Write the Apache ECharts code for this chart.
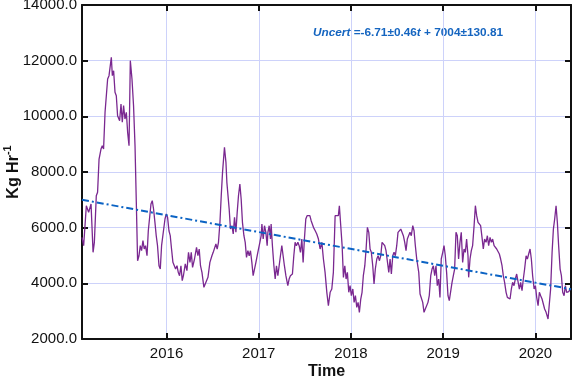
<!DOCTYPE html>
<html>
<head>
<meta charset="utf-8">
<script src="https://cdn.jsdelivr.net/npm/echarts@6/dist/echarts.min.js"></script>
<style>
  html, body { margin: 0; padding: 0; background: #fff; }
  #chart { width: 575px; height: 380px; }
</style>
</head>
<body>
<div id="chart"></div>
<script>
// decimal years of each reading and the flux at that time (Kg Hr-1)
const times = [
  2015.083, 2015.101, 2015.130, 2015.155, 2015.181, 2015.203, 2015.217, 2015.238, 2015.252, 2015.268,
  2015.289, 2015.303, 2015.317, 2015.333, 2015.347, 2015.361, 2015.376, 2015.401, 2015.412, 2015.426,
  2015.441, 2015.455, 2015.469, 2015.491, 2015.506, 2015.520, 2015.534, 2015.549, 2015.564, 2015.578,
  2015.593, 2015.607, 2015.625, 2015.642, 2015.658, 2015.672, 2015.686, 2015.701, 2015.715, 2015.729,
  2015.744, 2015.758, 2015.772, 2015.788, 2015.802, 2015.816, 2015.831, 2015.845, 2015.859, 2015.874,
  2015.888, 2015.902, 2015.918, 2015.932, 2015.946, 2015.967, 2015.983, 2015.997, 2016.011, 2016.026,
  2016.040, 2016.054, 2016.069, 2016.083, 2016.098, 2016.113, 2016.127, 2016.141, 2016.156, 2016.170,
  2016.184, 2016.203, 2016.221, 2016.238, 2016.254, 2016.268, 2016.282, 2016.303, 2016.325, 2016.340,
  2016.354, 2016.368, 2016.384, 2016.405, 2016.427, 2016.449, 2016.470, 2016.492, 2016.506, 2016.520,
  2016.535, 2016.549, 2016.563, 2016.579, 2016.593, 2016.607, 2016.628, 2016.644, 2016.654, 2016.665,
  2016.679, 2016.693, 2016.709, 2016.723, 2016.737, 2016.752, 2016.766, 2016.780, 2016.795, 2016.809,
  2016.823, 2016.839, 2016.853, 2016.867, 2016.882, 2016.896, 2016.910, 2016.925, 2016.939, 2016.953,
  2016.969, 2016.983, 2016.997, 2017.012, 2017.026, 2017.034, 2017.048, 2017.062, 2017.077, 2017.091,
  2017.099, 2017.113, 2017.127, 2017.134, 2017.148, 2017.164, 2017.178, 2017.192, 2017.207, 2017.221,
  2017.235, 2017.250, 2017.264, 2017.278, 2017.294, 2017.315, 2017.329, 2017.343, 2017.365, 2017.380,
  2017.394, 2017.408, 2017.424, 2017.438, 2017.452, 2017.467, 2017.481, 2017.495, 2017.510, 2017.524,
  2017.538, 2017.554, 2017.568, 2017.582, 2017.593, 2017.612, 2017.629, 2017.647, 2017.665, 2017.684,
  2017.701, 2017.719, 2017.738, 2017.755, 2017.774, 2017.792, 2017.809, 2017.828, 2017.846, 2017.863,
  2017.874, 2017.889, 2017.904, 2017.918, 2017.933, 2017.947, 2017.961, 2017.976, 2017.990, 2018.004,
  2018.020, 2018.034, 2018.048, 2018.063, 2018.077, 2018.091, 2018.106, 2018.120, 2018.134, 2018.150,
  2018.164, 2018.178, 2018.193, 2018.207, 2018.221, 2018.236, 2018.250, 2018.264, 2018.280, 2018.294,
  2018.308, 2018.323, 2018.337, 2018.351, 2018.366, 2018.380, 2018.394, 2018.410, 2018.424, 2018.438,
  2018.453, 2018.467, 2018.481, 2018.496, 2018.510, 2018.524, 2018.540, 2018.554, 2018.568, 2018.583,
  2018.597, 2018.611, 2018.626, 2018.640, 2018.654, 2018.670, 2018.684, 2018.698, 2018.713, 2018.735,
  2018.749, 2018.763, 2018.778, 2018.792, 2018.806, 2018.821, 2018.835, 2018.849, 2018.865, 2018.879,
  2018.893, 2018.908, 2018.922, 2018.936, 2018.951, 2018.965, 2018.979, 2018.995, 2019.009, 2019.023,
  2019.037, 2019.052, 2019.066, 2019.080, 2019.096, 2019.110, 2019.124, 2019.139, 2019.153, 2019.167,
  2019.182, 2019.196, 2019.211, 2019.226, 2019.240, 2019.254, 2019.269, 2019.276, 2019.291, 2019.305,
  2019.319, 2019.335, 2019.349, 2019.363, 2019.378, 2019.392, 2019.406, 2019.421, 2019.435, 2019.449,
  2019.465, 2019.479, 2019.493, 2019.508, 2019.522, 2019.536, 2019.552, 2019.566, 2019.580, 2019.595,
  2019.609, 2019.623, 2019.638, 2019.652, 2019.666, 2019.682, 2019.696, 2019.710, 2019.725, 2019.739,
  2019.753, 2019.768, 2019.782, 2019.797, 2019.812, 2019.826, 2019.840, 2019.855, 2019.869, 2019.883,
  2019.899, 2019.913, 2019.927, 2019.942, 2019.956, 2019.970, 2019.986, 2020.000, 2020.014, 2020.029,
  2020.043, 2020.057, 2020.072, 2020.086, 2020.100, 2020.116, 2020.137, 2020.151, 2020.165, 2020.181,
  2020.195, 2020.209, 2020.224, 2020.238, 2020.252, 2020.268, 2020.282, 2020.296, 2020.311, 2020.325,
  2020.339, 2020.361, 2020.380
]
const flux = [
  5653, 5352, 6789, 6551, 6850, 5114, 5473, 7148, 7270, 8467,
  8826, 8946, 8826, 10145, 10205, 11341, 11460, 12121, 11460, 11640,
  10863, 10740, 10022, 9843, 10443, 9785, 10383, 9904, 10145, 9426,
  8946, 12000, 11341, 10383, 8946, 6910, 4813, 4992, 5352, 5172,
  5532, 5233, 5352, 4992, 5890, 5950, 6850, 6969, 6670, 6192,
  5711, 5352, 4633, 4514, 5352, 5412, 6311, 6491, 6371, 5890,
  5711, 5233, 4754, 4813, 4514, 4633, 4394, 4274, 4633, 4094,
  4300, 4700, 4454, 5114, 4754, 5114, 4574, 4874, 5293, 4992,
  5233, 4633, 4394, 3857, 4036, 4215, 4754, 4992, 5114, 5053,
  5412, 5233, 5473, 6192, 7148, 7987, 8887, 8347, 7629, 7568,
  6670, 5950, 6070, 5772, 6371, 5833, 6551, 7148, 7568, 7030,
  6192, 5711, 5473, 4933, 5172, 4992, 5172, 4754, 4274, 4334,
  4754, 4992, 5233, 5473, 5711, 6131, 5592, 6070, 5833, 5352,
  5833, 6070, 5592, 6131, 5352, 4633, 4155, 4633, 4274, 4633,
  4992, 5352, 4992, 4633, 4274, 3917, 4155, 4274, 4334, 4992,
  5473, 5352, 5473, 5352, 5114, 5592, 4754, 5592, 6311, 6431,
  6371, 6431, 6251, 6192, 6012, 5890, 5772, 5592, 5233, 5473,
  4874, 4394, 3677, 3196, 3677, 3796, 4394, 6431, 6491, 6431,
  6789, 6070, 5352, 4215, 4633, 4155, 4394, 3677, 3917, 3556,
  3796, 3316, 3556, 3136, 3316, 2958, 3436, 3677, 4274, 4633,
  5233, 6012, 5833, 5233, 5114, 4633, 3976, 4514, 4874, 4992,
  4813, 4992, 5473, 5532, 5352, 5172, 5233, 4394, 4874, 4334,
  4992, 5114, 4992, 5352, 5833, 5772, 5950, 6012, 5711, 5473,
  5172, 5592, 5532, 5833, 5711, 6070, 5890, 5352, 4874, 4394,
  3617, 3556, 3316, 2958, 3077, 3077, 3316, 3556, 4274, 4514,
  4633, 4274, 4633, 3917, 4155, 3496, 4874, 5114, 5352, 4992,
  4394, 3556, 3376, 3316, 4036, 4274, 4514, 5833, 5711, 4874,
  5473, 5833, 4754, 5233, 5114, 5592, 4992, 4215, 4874, 5172,
  5352, 6070, 6789, 6431, 6192, 6192, 6070, 5652, 5233, 5592,
  5473, 5711, 5352, 5652, 5473, 5592, 5352, 5412, 5233, 5293,
  5053, 4874, 4633, 4274, 4036, 3677, 3496, 3496, 3436, 3796,
  4036, 3917, 4155, 4334, 4274, 3796, 4036, 3736, 4155, 4514,
  4992, 4874, 5053, 5233, 4874, 4274, 3796, 3917, 3496, 3196,
  3677, 3556, 3436, 3376, 3077, 2958, 2718, 2718, 3796, 5114,
  5950, 6311, 6789, 6192, 5352, 4514, 4274, 3677, 3556, 3917,
  3677, 3700, 3800
]
// fitted trend: Uncert = -6.71±0.46 t + 7004±130.81
const trendTimes = [2015.083, 2020.386]
const trendValues = [7004, 3790]
const yearTicks = [2016, 2017, 2018, 2019, 2020]

const xMin = 2015.083
const xMax = 2020.386
const font = 'Liberation Sans, Arial, sans-serif'
const gridColor = '#cdd2fa'
const tickStyle = { color: '#111', width: 2 }

const chart = echarts.init(document.getElementById('chart'))

const baseX = {
  type: 'value',
  min: xMin,
  max: xMax,
  axisLine: { show: true, onZero: false, lineStyle: { color: '#111', width: 2 } },
  axisTick: { show: true, inside: true, length: 6, customValues: yearTicks, lineStyle: tickStyle },
  splitLine: { show: false }
}

const option = {
  animation: false,
  grid: { left: 82, right: 4, top: 5, bottom: 41, containLabel: false, outerBoundsMode: 'none' },
  xAxis: [
    Object.assign({}, baseX, {
      position: 'bottom',
      name: 'Time',
      nameLocation: 'middle',
      nameGap: 25,
      nameMoveOverlap: false,
      nameTextStyle: { fontFamily: font, fontSize: 16, fontWeight: 'bold', color: '#111' },
      axisLabel: {
        customValues: yearTicks, margin: 7,
        fontFamily: font, fontSize: 15, color: '#111',
        formatter: v => String(Math.round(v))
      },
      splitLine: { show: true, lineStyle: { color: gridColor, width: 1 } }
    }),
    Object.assign({}, baseX, {
      position: 'top',
      axisLabel: { show: false }
    })
  ],
  yAxis: [
    {
      type: 'value', min: 2000, max: 14000, interval: 2000,
      position: 'left',
      name: '{a|Kg Hr}{s|-1}',
      nameLocation: 'middle',
      nameRotate: 90,
      nameGap: 60,
      nameMoveOverlap: false,
      nameTextStyle: {
        rich: {
          a: { fontFamily: font, fontSize: 16, fontWeight: 'bold', color: '#111', lineHeight: 20, verticalAlign: 'bottom' },
          s: { fontFamily: font, fontSize: 11, fontWeight: 'bold', color: '#111', lineHeight: 20, verticalAlign: 'top' }
        }
      },
      axisLine: { show: true, onZero: false, lineStyle: { color: '#111', width: 2 } },
      axisTick: { show: true, inside: true, length: 6, lineStyle: tickStyle },
      axisLabel: {
        margin: 5, fontFamily: font, fontSize: 15, color: '#111',
        formatter: v => v.toFixed(1)
      },
      splitLine: { show: true, lineStyle: { color: gridColor, width: 1 } }
    },
    {
      type: 'value', min: 2000, max: 14000, interval: 2000,
      position: 'right',
      axisLine: { show: true, onZero: false, lineStyle: { color: '#111', width: 2 } },
      axisTick: { show: true, inside: true, length: 6, lineStyle: tickStyle },
      axisLabel: { show: false },
      splitLine: { show: false }
    }
  ],
  series: [
    {
      type: 'line',
      data: times.map((t, i) => [t, flux[i]]),
      showSymbol: false,
      lineStyle: { color: '#7a2890', width: 1.3 },
      z: 3
    },
    {
      type: 'line',
      data: trendTimes.map((t, i) => [t, trendValues[i]]),
      showSymbol: false,
      lineStyle: { color: '#0b63c4', width: 2, type: [7, 3, 2, 3] },
      z: 4
    }
  ],
  graphic: [
    {
      type: 'text',
      left: 313,
      top: 27,
      style: {
        text: '{i|Uncert} =-6.71±0.46{i|t} + 7004±130.81',
        font: 'bold 11.8px ' + font,
        fill: '#1565c0',
        rich: {
          i: { fontFamily: font, fontSize: 11.8, fontWeight: 'bold', fontStyle: 'italic', fill: '#1565c0' }
        }
      }
    }
  ]
}

chart.setOption(option)
</script>
</body>
</html>
